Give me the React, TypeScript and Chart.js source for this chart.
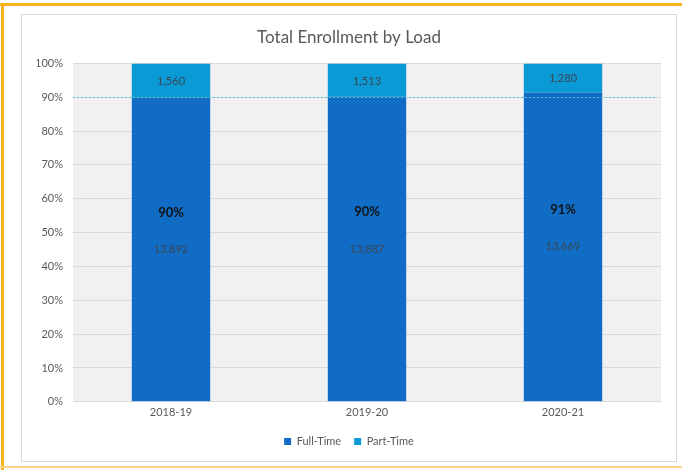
import React, { useEffect, useRef } from "react";
import { Chart, registerables } from "chart.js";

Chart.register(...registerables);

const categories = ["2018-19", "2019-20", "2020-21"];
const fullTime = [13892, 13887, 13669];
const partTime = [1560, 1513, 1280];
const yTicks = [0, 10, 20, 30, 40, 50, 60, 70, 80, 90, 100];
const referenceLine = 90;

const FONT = "Lato, 'Open Sans', sans-serif";

export default function App() {
  const ref = useRef<HTMLCanvasElement | null>(null);

  useEffect(() => {
    const canvas = ref.current;
    if (!canvas) return;
    const totals = fullTime.map((v, i) => v + partTime[i]);
    const ftPct = fullTime.map((v, i) => (v / totals[i]) * 100);
    const ptPct = partTime.map((v, i) => (v / totals[i]) * 100);

    const bgPlugin = {
      id: "plotBg",
      beforeDraw(chart: any) {
        const { ctx, chartArea } = chart;
        ctx.save();
        ctx.fillStyle = "#f1f1f1";
        ctx.fillRect(chartArea.left, chartArea.top, chartArea.right - chartArea.left, chartArea.bottom - chartArea.top);
        ctx.restore();
      },
    };

    const labelPlugin = {
      id: "labels",
      afterDatasetsDraw(chart: any) {
        const { ctx, chartArea } = chart;
        const y = chart.scales.y;
        ctx.save();
        const ly = Math.round(y.getPixelForValue(referenceLine)) + 0.5;
        ctx.strokeStyle = "#4fc3d4";
        ctx.lineWidth = 1;
        ctx.setLineDash([2, 2]);
        ctx.beginPath();
        ctx.moveTo(chartArea.left, ly);
        ctx.lineTo(chartArea.right - 4, ly);
        ctx.stroke();
        ctx.setLineDash([]);

        ctx.textAlign = "center";
        ctx.textBaseline = "middle";
        const m0 = chart.getDatasetMeta(0);
        const m1 = chart.getDatasetMeta(1);
        m0.data.forEach((bar: any, i: number) => {
          const cy = (bar.y + bar.base) / 2;
          ctx.fillStyle = "#3d4650";
          ctx.font = `11px ${FONT}`;
          ctx.fillText(fullTime[i].toLocaleString("en-US"), bar.x, cy);
          ctx.fillStyle = "#111111";
          ctx.font = `bold 13px ${FONT}`;
          ctx.fillText(Math.round(ftPct[i]) + "%", bar.x, cy - 37);
        });
        m1.data.forEach((bar: any, i: number) => {
          const cy = (bar.y + bar.base) / 2;
          ctx.fillStyle = "#3d4650";
          ctx.font = `11px ${FONT}`;
          ctx.fillText(partTime[i].toLocaleString("en-US"), bar.x, cy + 1);
        });
        ctx.restore();
      },
    };

    const chart = new Chart(canvas, {
      type: "bar",
      data: {
        labels: categories,
        datasets: [
          {
            label: "Full-Time",
            data: ftPct,
            backgroundColor: "#106cc4",
            categoryPercentage: 1,
            barPercentage: 0.4,
          },
          {
            label: "Part-Time",
            data: ptPct,
            backgroundColor: "#0a9ad6",
            categoryPercentage: 1,
            barPercentage: 0.4,
          },
        ],
      },
      options: {
        responsive: false,
        animation: false,
        layout: { padding: { left: 15, right: 15, top: 0, bottom: 4 } },
        plugins: {
          title: {
            display: true,
            text: "Total Enrollment by Load",
            color: "#595959",
            font: { family: FONT, size: 17, weight: "normal" },
            padding: { top: 12, bottom: 16 },
          },
          legend: {
            position: "bottom",
            labels: {
              boxWidth: 7,
              boxHeight: 7,
              color: "#595959",
              font: { family: FONT, size: 11 },
              padding: 13,
            },
          },
          tooltip: { enabled: false },
        },
        scales: {
          x: {
            stacked: true,
            grid: { display: false, drawTicks: false },
            border: { display: false },
            ticks: { color: "#595959", font: { family: FONT, size: 11 }, padding: 4 },
          },
          y: {
            stacked: true,
            min: 0,
            max: 100,
            afterBuildTicks: (axis: any) => {
              axis.ticks = yTicks.map((v) => ({ value: v }));
            },
            afterFit: (axis: any) => {
              axis.width = 36;
            },
            grid: { color: "#d9d9d9", drawTicks: false },
            border: { display: false },
            ticks: {
              color: "#595959",
              font: { family: FONT, size: 11 },
              padding: 10,
              callback: (v: any) => v + "%",
            },
          },
        },
      },
      plugins: [bgPlugin, labelPlugin],
    });
    return () => chart.destroy();
  }, []);

  return (
    <div style={{ position: "absolute", left: 0, top: 0, width: 682, height: 470, background: "#ffffff", overflow: "hidden" }}>
      <div style={{ position: "absolute", left: 0, top: 3, width: 682, height: 3, background: "#f7b21e" }} />
      <div style={{ position: "absolute", left: 1, top: 3, width: 3, height: 467, background: "#f7b21e" }} />
      <div style={{ position: "absolute", left: 0, top: 466, width: 682, height: 2, background: "#fbd389" }} />
      <div
        style={{
          position: "absolute",
          left: 21,
          top: 14,
          width: 654,
          height: 446,
          border: "1px solid #d9d9d9",
          background: "#ffffff",
        }}
      >
        <canvas ref={ref} width={654} height={446} style={{ display: "block" }} />
      </div>
    </div>
  );
}
